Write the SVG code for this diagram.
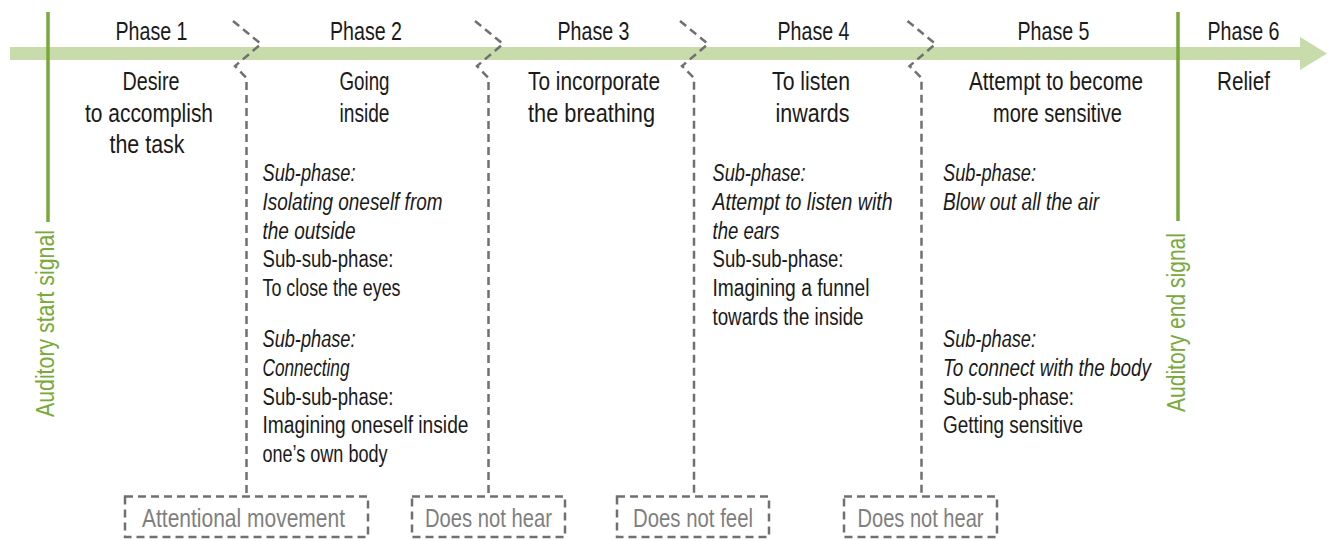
<svg xmlns="http://www.w3.org/2000/svg" width="1328" height="541" viewBox="0 0 1328 541">
<style>
text{font-family:"Liberation Sans Narrow","Liberation Sans",Arial,sans-serif;fill:#1a1a1a}
.h{font-size:26px;text-anchor:middle}
.b{font-size:23px}
.i{font-style:italic}
.g{font-size:25px;fill:#79a93b}
.bx{font-size:25px;fill:#7f7f7f;text-anchor:middle}
.dash{fill:none;stroke:#707070;stroke-width:2.5;stroke-dasharray:8 5}
.sig{stroke:#79a93b;stroke-width:3.5;fill:none}
</style>
<rect width="1328" height="541" fill="#ffffff"/>
<g id="timeline">
<path d="M10,47 H1300 V37 L1327,53.5 L1300,70 V60 H10 Z" fill="#c8dbab"/>
</g>
<g id="start-signal">
<line class="sig" x1="48" y1="12" x2="48" y2="222"/>
<text class="g" transform="translate(54,417) rotate(-90)" textLength="187" lengthAdjust="spacingAndGlyphs">Auditory start signal</text>
</g>
<g id="end-signal">
<line class="sig" x1="1178" y1="12" x2="1178" y2="221"/>
<text class="g" transform="translate(1185,412) rotate(-90)" textLength="179" lengthAdjust="spacingAndGlyphs">Auditory end signal</text>
</g>
<g id="connectors">
<path class="dash" d="M233,21 L261,44 L235,66 L246.5,78 V496.5"/>
<path class="dash" d="M475,21 L503,44 L477,66 L488.5,78 V496.5"/>
<path class="dash" d="M680,21 L708,44 L682,66 L694,78 V496.5"/>
<path class="dash" d="M907.5,21 L935.5,44 L909.5,66 L921.5,78 V496.5"/>
</g>
<g id="phase1">
<text class="h" x="151.5" y="39.5" textLength="72" lengthAdjust="spacingAndGlyphs">Phase 1</text>
<text class="h" x="151" y="90" textLength="57" lengthAdjust="spacingAndGlyphs">Desire</text>
<text class="h" x="149" y="121.5" textLength="128" lengthAdjust="spacingAndGlyphs">to accomplish</text>
<text class="h" x="147" y="153" textLength="75" lengthAdjust="spacingAndGlyphs">the task</text>
</g>
<g id="phase2">
<text class="h" x="366" y="39.5" textLength="72" lengthAdjust="spacingAndGlyphs">Phase 2</text>
<text class="h" x="364.5" y="90" textLength="50" lengthAdjust="spacingAndGlyphs">Going</text>
<text class="h" x="364.5" y="121.5" textLength="50" lengthAdjust="spacingAndGlyphs">inside</text>
<text class="b i" x="262.5" y="181" textLength="93" lengthAdjust="spacingAndGlyphs">Sub-phase:</text>
<text class="b i" x="262.5" y="210" textLength="180" lengthAdjust="spacingAndGlyphs">Isolating oneself from</text>
<text class="b i" x="262.5" y="238.5" textLength="93" lengthAdjust="spacingAndGlyphs">the outside</text>
<text class="b" x="262.5" y="267" textLength="131" lengthAdjust="spacingAndGlyphs">Sub-sub-phase:</text>
<text class="b" x="262.5" y="296" textLength="138" lengthAdjust="spacingAndGlyphs">To close the eyes</text>
<text class="b i" x="262.5" y="347" textLength="93" lengthAdjust="spacingAndGlyphs">Sub-phase:</text>
<text class="b i" x="262.5" y="376" textLength="87" lengthAdjust="spacingAndGlyphs">Connecting</text>
<text class="b" x="262.5" y="404.5" textLength="131" lengthAdjust="spacingAndGlyphs">Sub-sub-phase:</text>
<text class="b" x="262.5" y="433" textLength="206" lengthAdjust="spacingAndGlyphs">Imagining oneself inside</text>
<text class="b" x="262.5" y="461.5" textLength="125" lengthAdjust="spacingAndGlyphs">one’s own body</text>
</g>
<g id="phase3">
<text class="h" x="593.5" y="39.5" textLength="72" lengthAdjust="spacingAndGlyphs">Phase 3</text>
<text class="h" x="594" y="90" textLength="132" lengthAdjust="spacingAndGlyphs">To incorporate</text>
<text class="h" x="591.5" y="121.5" textLength="127" lengthAdjust="spacingAndGlyphs">the breathing</text>
</g>
<g id="phase4">
<text class="h" x="813.5" y="39.5" textLength="72" lengthAdjust="spacingAndGlyphs">Phase 4</text>
<text class="h" x="811" y="90" textLength="78" lengthAdjust="spacingAndGlyphs">To listen</text>
<text class="h" x="812.5" y="121.5" textLength="74" lengthAdjust="spacingAndGlyphs">inwards</text>
<text class="b i" x="712.5" y="181" textLength="93" lengthAdjust="spacingAndGlyphs">Sub-phase:</text>
<text class="b i" x="712.5" y="210" textLength="180" lengthAdjust="spacingAndGlyphs">Attempt to listen with</text>
<text class="b i" x="712.5" y="238.5" textLength="67" lengthAdjust="spacingAndGlyphs">the ears</text>
<text class="b" x="712.5" y="267" textLength="131" lengthAdjust="spacingAndGlyphs">Sub-sub-phase:</text>
<text class="b" x="712.5" y="296" textLength="157" lengthAdjust="spacingAndGlyphs">Imagining a funnel</text>
<text class="b" x="712.5" y="325" textLength="151" lengthAdjust="spacingAndGlyphs">towards the inside</text>
</g>
<g id="phase5">
<text class="h" x="1053.5" y="39.5" textLength="72" lengthAdjust="spacingAndGlyphs">Phase 5</text>
<text class="h" x="1056" y="90" textLength="174" lengthAdjust="spacingAndGlyphs">Attempt to become</text>
<text class="h" x="1057.5" y="121.5" textLength="129" lengthAdjust="spacingAndGlyphs">more sensitive</text>
<text class="b i" x="943" y="181" textLength="93" lengthAdjust="spacingAndGlyphs">Sub-phase:</text>
<text class="b i" x="943" y="210" textLength="156" lengthAdjust="spacingAndGlyphs">Blow out all the air</text>
<text class="b i" x="943" y="347" textLength="93" lengthAdjust="spacingAndGlyphs">Sub-phase:</text>
<text class="b i" x="943" y="376" textLength="208" lengthAdjust="spacingAndGlyphs">To connect with the body</text>
<text class="b" x="943" y="404.5" textLength="131" lengthAdjust="spacingAndGlyphs">Sub-sub-phase:</text>
<text class="b" x="943" y="433" textLength="140" lengthAdjust="spacingAndGlyphs">Getting sensitive</text>
</g>
<g id="phase6">
<text class="h" x="1243.5" y="39.5" textLength="72" lengthAdjust="spacingAndGlyphs">Phase 6</text>
<text class="h" x="1243.5" y="90" textLength="53" lengthAdjust="spacingAndGlyphs">Relief</text>
</g>
<g id="box-attentional-movement">
<rect class="dash" x="125" y="496.5" width="243" height="40.5"/>
<text class="bx" x="243.5" y="527" textLength="203" lengthAdjust="spacingAndGlyphs">Attentional movement</text>
</g>
<g id="box-does-not-hear-1">
<rect class="dash" x="412" y="496.5" width="153" height="40.5"/>
<text class="bx" x="488.5" y="527" textLength="127" lengthAdjust="spacingAndGlyphs">Does not hear</text>
</g>
<g id="box-does-not-feel">
<rect class="dash" x="617" y="496.5" width="152" height="40.5"/>
<text class="bx" x="693" y="527" textLength="120" lengthAdjust="spacingAndGlyphs">Does not feel</text>
</g>
<g id="box-does-not-hear-2">
<rect class="dash" x="844" y="496.5" width="153" height="40.5"/>
<text class="bx" x="920.5" y="527" textLength="126" lengthAdjust="spacingAndGlyphs">Does not hear</text>
</g>
</svg>
